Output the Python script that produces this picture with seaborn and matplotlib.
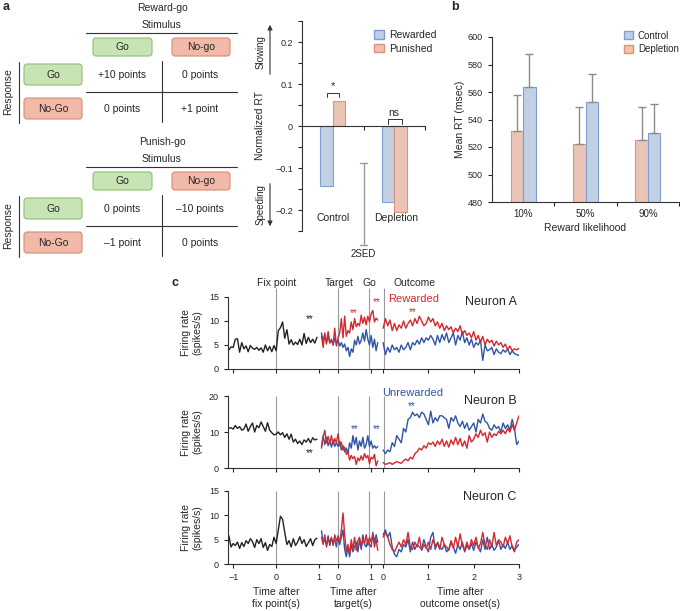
import numpy as np
import pandas as pd
import seaborn as sns
import matplotlib.pyplot as plt
from matplotlib.patches import FancyBboxPatch, Patch

# ---------------- data ----------------
# panel a, tables
reward_go = [["+10 points", "0 points"], ["0 points", "+1 point"]]
punish_go = [["0 points", "\u201310 points"], ["\u20131 point", "0 points"]]

# panel a, normalized RT
rt_groups = ["Control", "Depletion"]
rt_rewarded = [-0.142, -0.182]
rt_punished = [0.060, -0.205]
sed2_top, sed2_bottom = -0.088, -0.284

# panel b, mean RT
likelihood = ["10%", "50%", "90%"]
mean_rt_control = [564, 553, 530]
mean_rt_depletion = [532, 522, 525]
err_control = [24, 20, 21]
err_depletion = [26, 27, 24]

# panel c, firing rates (bins of 50 ms)
a_fix = [4.0, 4.6, 4.5, 6.2, 6.3, 3.5, 5.5, 4.2, 4.8, 3.6, 4.9, 4.3, 4.1, 4.5, 3.9, 4.4, 3.5, 5.0, 3.8, 4.7, 3.6, 4.9,
         3.8, 8.0, 8.6, 9.8, 6.4, 8.2, 5.2, 6.1, 5.0, 5.6, 5.1, 6.2, 5.0, 7.4, 5.3, 6.6, 5.5, 6.2, 5.4, 6.6]
a_tgt_rew = [6.8, 4.5, 7.5, 5.2, 7.8, 5.5, 6.0, 5.0, 8.5, 4.8, 6.5, 7.5, 10.5, 6.5, 11.0, 6.8, 8.0, 7.5, 9.8, 8.2,
             10.5, 8.8, 9.5, 9.0, 11.2, 9.5, 10.8, 9.2, 11.0, 9.8, 11.5, 12.2, 9.8, 10.6, 10.2]
a_tgt_unr = [7.5, 5.8, 7.2, 5.5, 7.0, 5.4, 6.2, 5.0, 6.5, 5.2, 6.0, 4.8, 5.5, 4.5, 5.2, 3.8, 4.5, 2.6, 4.2, 3.5,
             6.0, 5.0, 6.8, 5.2, 6.0, 7.5, 5.8, 8.2, 6.2, 5.0, 7.0, 4.5, 6.2, 3.8, 5.5]
a_out_rew = [8.5, 10.5, 9.0, 10.2, 8.0, 9.5, 8.0, 9.2, 8.5, 10.0, 8.5, 9.5, 10.2, 9.0, 10.5, 9.5, 11.0, 10.0, 9.0, 9.5,
             10.8, 9.8, 10.5, 9.0, 9.8, 8.5, 9.5, 8.0, 9.0, 8.2, 8.8, 7.5, 8.5, 7.8, 9.0, 7.2, 8.0, 7.0, 7.5, 6.5,
             7.8, 6.0, 7.0, 5.5, 6.8, 5.0, 6.2, 5.5, 6.0, 4.8, 5.8, 5.0, 5.5, 4.5, 5.2, 4.0, 4.8, 3.8, 4.2, 4.0, 4.3]
a_out_unr = [5.5, 3.0, 4.5, 3.5, 5.0, 4.0, 4.5, 3.5, 5.0, 4.0, 4.5, 5.5, 4.0, 5.5, 5.0, 6.0, 5.2, 6.5, 5.5, 6.5,
             6.0, 7.0, 6.2, 5.0, 7.0, 5.5, 7.2, 6.0, 7.5, 5.5, 6.5, 7.5, 5.0, 7.0, 6.0, 7.8, 5.5, 6.5, 5.0, 6.2,
             4.5, 5.5, 5.0, 6.0, 1.8, 5.0, 3.8, 4.0, 4.5, 3.0, 4.2, 3.5, 3.2, 4.0, 3.5, 4.2, 3.0, 3.8, 3.2, 3.0, 2.8]

b_fix = [11.0, 11.2, 10.8, 11.8, 11.0, 11.5, 10.5, 10.8, 12.2, 10.2, 11.5, 12.5, 10.0, 11.8, 11.2, 12.8, 11.5, 10.2,
         12.6, 10.5, 9.8, 9.2, 9.4, 10.0, 9.2, 9.8, 8.5, 9.5, 8.0, 9.4, 7.2, 8.0, 6.8, 7.5, 6.5, 7.8, 7.2, 8.2, 7.0,
         8.4, 7.8, 8.0]
b_tgt_rew = [5.5, 8.5, 10.5, 7.0, 8.8, 6.8, 9.0, 6.5, 8.2, 7.0, 9.5, 6.2, 7.2, 5.0, 5.8, 3.8, 4.5, 2.2, 3.5, 2.6,
             3.2, 1.0, 2.8, 2.0, 3.4, 2.2, 4.0, 2.8, 3.5, 1.2, 3.0, 2.5, 3.8, 0.6, 2.0]
b_tgt_unr = [6.0, 9.0, 6.5, 8.5, 6.2, 7.5, 5.8, 7.8, 6.0, 7.0, 6.0, 7.5, 5.0, 6.2, 4.5, 5.5, 4.0, 7.0, 5.5, 9.0,
             6.5, 8.5, 5.0, 7.5, 6.0, 8.5, 5.5, 6.5, 9.0, 6.0, 7.5, 5.5, 6.2, 5.5, 6.0]
b_out_rew = [1.5, 1.0, 1.2, 1.5, 1.0, 1.4, 1.8, 1.5, 1.3, 2.0, 2.5, 2.0, 3.0, 2.5, 4.0, 4.5, 5.5, 5.0, 6.2, 5.5,
             7.0, 6.5, 7.2, 6.0, 7.5, 6.5, 8.0, 6.0, 7.5, 5.8, 7.8, 6.5, 8.5, 6.5, 8.2, 6.0, 7.5, 5.5, 9.0, 7.2,
             8.0, 9.5, 8.5, 10.5, 9.0, 9.8, 7.2, 10.0, 8.5, 9.5, 9.0, 10.2, 9.5, 10.5, 9.5, 11.0, 10.0, 12.0, 10.5,
             12.5, 14.5]
b_out_unr = [5.0, 4.0, 5.0, 4.5, 7.0, 6.0, 9.0, 8.0, 7.0, 11.0, 10.0, 13.5, 14.0, 15.5, 14.5, 15.0, 14.0, 15.5,
             15.0, 13.5, 12.0, 15.8, 12.5, 14.0, 13.0, 14.5, 14.5, 14.0, 13.5, 11.0, 14.0, 13.0, 14.5, 12.5, 11.5,
             13.0, 11.0, 12.5, 10.5, 11.5, 12.5, 10.0, 13.5, 12.5, 15.0, 13.0, 12.5, 11.0, 10.5, 12.0, 11.0, 11.5,
             10.0, 12.5, 11.0, 12.0, 10.5, 13.5, 11.0, 6.5, 7.5]

c_fix = [5.8, 3.5, 4.2, 3.8, 4.5, 3.2, 4.4, 3.6, 4.8, 4.2, 5.2, 4.6, 3.4, 5.0, 4.2, 5.2, 3.4, 4.4, 2.8, 4.0, 3.6, 5.5,
         4.2, 7.0, 9.8, 9.2, 6.5, 4.0, 4.8, 3.5, 5.2, 3.8, 4.5, 5.6, 4.2, 5.0, 3.6, 4.4, 5.2, 3.8, 5.0, 5.3]
c_tgt_rew = [5.5, 4.0, 6.0, 3.5, 5.0, 4.5, 5.5, 3.8, 6.0, 4.8, 5.5, 4.5, 7.0, 10.5, 6.0, 2.5, 4.0, 2.0, 5.0, 3.0,
             5.5, 2.8, 4.8, 5.5, 3.5, 5.0, 4.2, 6.0, 3.8, 5.5, 4.5, 6.0, 3.5, 5.0, 2.8]
c_tgt_unr = [6.8, 4.5, 5.0, 4.0, 5.8, 3.8, 5.2, 4.5, 5.0, 3.5, 5.8, 4.0, 5.5, 7.0, 3.0, 1.5, 3.5, 1.5, 4.0, 2.5,
             3.5, 4.5, 2.5, 5.0, 3.0, 6.0, 4.0, 3.5, 5.0, 4.0, 3.5, 6.5, 4.5, 6.0, 4.5]
c_out_rew = [5.5, 6.5, 5.5, 4.0, 3.0, 2.5, 3.5, 4.5, 3.5, 5.0, 4.0, 6.5, 3.5, 3.0, 4.5, 3.5, 5.5, 2.8, 4.0, 3.2,
             4.5, 3.0, 5.0, 3.8, 4.2, 3.0, 5.5, 4.0, 3.5, 2.8, 4.8, 3.2, 5.5, 3.5, 6.2, 3.8, 2.8, 4.5, 3.0, 5.0,
             3.8, 5.5, 3.2, 4.2, 6.5, 4.0, 3.0, 5.0, 3.5, 6.5, 3.8, 5.0, 4.5, 3.5, 5.5, 4.2, 5.8, 3.5, 2.5, 4.5, 5.0]
c_out_unr = [6.0, 7.0, 5.5, 6.5, 3.5, 2.0, 1.5, 3.0, 2.5, 4.0, 3.5, 5.0, 2.5, 4.5, 3.0, 4.0, 3.5, 3.0, 5.0, 3.5,
             2.5, 5.5, 6.5, 3.0, 4.5, 3.5, 3.0, 4.0, 2.5, 3.0, 4.5, 3.5, 2.2, 4.0, 3.0, 4.5, 2.5, 3.8, 3.0, 4.2,
             2.8, 4.5, 3.5, 2.5, 5.0, 3.0, 5.5, 3.0, 4.0, 2.8, 3.5, 4.8, 3.0, 4.0, 3.2, 4.5, 3.0, 3.8, 2.8, 3.5, 4.0]

# ---------------- style ----------------
sns.set_style("ticks")
plt.rcParams['font.family'] = ['Liberation Sans', 'DejaVu Sans']
plt.rcParams['font.size'] = 7
plt.rcParams['axes.linewidth'] = 0.8
plt.rcParams['axes.edgecolor'] = '#333333'
plt.rcParams['xtick.major.size'] = 3
plt.rcParams['ytick.major.size'] = 3
plt.rcParams['xtick.major.width'] = 0.8
plt.rcParams['ytick.major.width'] = 0.8
plt.rcParams['xtick.labelsize'] = 6.5
plt.rcParams['ytick.labelsize'] = 6.5

BLUE_F, BLUE_E = '#bccfea', '#7f9fd2'
SAL_F, SAL_E = '#f2c2ae', '#d99479'
GREEN_F, GREEN_E = '#c8e4b4', '#8cc075'
RED_F, RED_E = '#f0b9a8', '#d98a76'
RED, BLUE, BLACK, GRAY = '#d2282e', '#2e55a6', '#222222', '#9a9a9a'

W, H = 680, 611
fig = plt.figure(figsize=(W / 100, H / 100), dpi=100)


def box(l, t, r, b):
    return [l / W, 1 - b / H, (r - l) / W, (b - t) / H]


ov = fig.add_axes([0, 0, 1, 1])
ov.set_xlim(0, W)
ov.set_ylim(H, 0)
ov.axis('off')

# ---------------- panel a: tables ----------------
def draw_button(x0, y0, x1, y1, label, fc, ec):
    ov.add_patch(FancyBboxPatch((x0, y0), x1 - x0, y1 - y0,
                                boxstyle="round,pad=0,rounding_size=3",
                                fc=fc, ec=ec, lw=0.8))
    ov.text((x0 + x1) / 2, (y0 + y1) / 2, label, ha='center', va='center', fontsize=7.5)


def draw_table(top, title, cells):
    ov.text(162, top, title, ha='center', va='center', fontsize=7.5)
    ov.text(162, top + 17, "Stimulus", ha='center', va='center', fontsize=7.5)
    ov.plot([86, 237], [top + 25, top + 25], color='#333333', lw=0.8)
    draw_button(93, top + 30, 152, top + 48, "Go", GREEN_F, GREEN_E)
    draw_button(172, top + 30, 230, top + 48, "No-go", RED_F, RED_E)
    draw_button(24, top + 56, 82, top + 77, "Go", GREEN_F, GREEN_E)
    draw_button(24, top + 90, 82, top + 111, "No-Go", RED_F, RED_E)
    ov.plot([19, 19], [top + 54, top + 115], color='#333333', lw=0.8)
    ov.text(8, top + 84, "Response", rotation=90, ha='center', va='center', fontsize=7.5)
    ov.plot([162, 162], [top + 53, top + 114], color='#333333', lw=0.8)
    ov.plot([86, 237], [top + 84, top + 84], color='#333333', lw=0.8)
    for r, yy in enumerate([top + 67, top + 101]):
        for c, xx in enumerate([122, 200]):
            ov.text(xx, yy, cells[r][c], ha='center', va='center', fontsize=7.5)


draw_table(8, "Reward-go", reward_go)
draw_table(142, "Punish-go", punish_go)

for lab, x, y in [("a", 3, 7), ("b", 451, 7), ("c", 171, 283)]:
    ov.text(x, y, lab, fontsize=9, fontweight='bold', ha='left', va='center')

# ---------------- panel a: normalized RT bars ----------------
ax_a = fig.add_axes(box(302, 21, 425, 231))
df_a = pd.DataFrame({
    'group': rt_groups * 2,
    'rt': rt_rewarded + rt_punished,
    'outcome': ['Rewarded'] * 2 + ['Punished'] * 2,
})
sns.barplot(data=df_a, x='group', y='rt', hue='outcome', hue_order=['Rewarded', 'Punished'],
            palette=[BLUE_F, SAL_F], width=0.4, ax=ax_a, legend=False, linewidth=0.8)
for cont, ec in zip(ax_a.containers, [BLUE_E, SAL_E]):
    for bar in cont:
        bar.set_edgecolor(ec)
ax_a.set_xlim(-0.5, 1.5)
ax_a.set_ylim(-0.235, 0.25)
sns.despine(ax=ax_a)
ax_a.spines['bottom'].set_position(('data', 0))
ax_a.set_xticks([])
ax_a.set_xticks([0.5, 1.5], minor=True)
ax_a.tick_params(axis='x', which='minor', length=3, width=0.8)
ax_a.set_yticks([-0.2, -0.1, 0, 0.1, 0.2])
ax_a.set_yticklabels(["\u22120.2", "\u22120.1", "0", "0.1", "0.2"])
ax_a.set_yticks(np.arange(-0.25, 0.26, 0.05), minor=True)
ax_a.tick_params(axis='y', which='minor', length=3, width=0.8)
ax_a.set_xlabel("")
ax_a.set_ylabel("Normalized RT", fontsize=7.5, va='center')
ax_a.yaxis.set_label_coords(-0.34, 0.5)
ax_a.text(0, -0.218, "Control", ha='center', va='center', fontsize=7.5)
ax_a.text(1.03, -0.218, "Depletion", ha='center', va='center', fontsize=7.5)
# 2SED bar
ax_a.plot([0.5, 0.5], [sed2_top, sed2_bottom], color=GRAY, lw=1, clip_on=False)
ax_a.plot([0.45, 0.55], [sed2_top, sed2_top], color=GRAY, lw=1, clip_on=False)
ax_a.plot([0.45, 0.55], [sed2_bottom, sed2_bottom], color=GRAY, lw=1, clip_on=False)
ax_a.text(0.5, sed2_bottom - 0.02, "2SED", ha='center', va='center', fontsize=7, clip_on=False)
# significance
ax_a.plot([-0.1, -0.1, 0.1, 0.1], [0.068, 0.078, 0.078, 0.068], color='#333333', lw=0.7)
ax_a.text(0, 0.083, "*", ha='center', va='bottom', fontsize=8)
ax_a.plot([0.9, 0.9, 1.12, 1.12], [0.005, 0.016, 0.016, 0.005], color='#333333', lw=0.7)
ax_a.text(1.0, 0.019, "ns", ha='center', va='bottom', fontsize=7.5)
ax_a.legend(handles=[Patch(fc=BLUE_F, ec=BLUE_E, label='Rewarded'),
                     Patch(fc=SAL_F, ec=SAL_E, label='Punished')],
            loc='upper right', bbox_to_anchor=(1.17, 1.0), frameon=False, fontsize=7.5,
            handlelength=0.9, handleheight=0.9, handletextpad=0.5, labelspacing=0.3)
# slowing / speeding arrows
ov.annotate("", xy=(270, 22), xytext=(270, 77),
            arrowprops=dict(arrowstyle='-|>', color='#333333', lw=0.8, mutation_scale=7))
ov.annotate("", xy=(270, 229), xytext=(270, 181),
            arrowprops=dict(arrowstyle='-|>', color='#333333', lw=0.8, mutation_scale=7))
ov.text(261, 52, "Slowing", rotation=90, ha='center', va='center', fontsize=7)
ov.text(261, 205, "Speeding", rotation=90, ha='center', va='center', fontsize=7)

# ---------------- panel b: mean RT ----------------
ax_b = fig.add_axes(box(492, 37, 679, 202))
df_b = pd.DataFrame({
    'likelihood': likelihood * 2,
    'rt': mean_rt_depletion + mean_rt_control,
    'condition': ['Depletion'] * 3 + ['Control'] * 3,
})
sns.barplot(data=df_b, x='likelihood', y='rt', hue='condition', hue_order=['Depletion', 'Control'],
            palette=[SAL_F, BLUE_F], width=0.4, ax=ax_b, legend=False, linewidth=0.8)
for cont, ec, errs in zip(ax_b.containers, [SAL_E, BLUE_E], [err_depletion, err_control]):
    for bar, e in zip(cont, errs):
        bar.set_edgecolor(ec)
        xc = bar.get_x() + bar.get_width() / 2
        ax_b.errorbar(xc, bar.get_height(), yerr=[[0], [e]], color='#8c8c8c', lw=1,
                      capsize=3, capthick=1, zorder=1)
ax_b.set_ylim(480, 600)
ax_b.set_xlim(-0.5, 2.5)
ax_b.set_yticks(range(480, 601, 20))
sns.despine(ax=ax_b)
ax_b.tick_params(axis='x', which='major', length=0, pad=5)
ax_b.set_xticks([0.5, 1.5, 2.5], minor=True)
ax_b.tick_params(axis='x', which='minor', length=3, width=0.8)
ax_b.set_xticklabels(likelihood, fontsize=7)
ax_b.set_xlabel("Reward likelihood", fontsize=7.5, labelpad=3)
ax_b.set_ylabel("Mean RT (msec)", fontsize=7.5, va='center')
ax_b.yaxis.set_label_coords(-0.17, 0.5)
ax_b.legend(handles=[Patch(fc=BLUE_F, ec=BLUE_E, label='Control'),
                     Patch(fc=SAL_F, ec=SAL_E, label='Depletion')],
            loc='upper right', bbox_to_anchor=(1.035, 1.08), frameon=False, fontsize=7,
            handlelength=0.9, handleheight=0.9, handletextpad=0.5, labelspacing=0.35,
            borderpad=0.2)

# ---------------- panel c: firing rates ----------------
FIX_OFF, TGT_OFF, TGT_SC, OUT_OFF, OUT_SC = 0.0, 1.44, 0.77, 2.49, 1.053
event_u = [0.0, 1.44, 2.16, 2.50]
tick_u = [-1, 0, 1, 1.44, 2.21, 2.49, 3.54, 4.60, 5.65]
tick_lab = ["\u22121", "0", "1", "0", "1", "0", "1", "2", "3"]


def seg_u(vals, start, off, sc):
    t = start + 0.05 * np.arange(len(vals))
    return off + sc * t


def draw_neuron(ax, fix, t_rew, t_unr, o_rew, o_unr, ymax, yticks, show_x):
    sns.lineplot(x=seg_u(fix, -1.1, FIX_OFF, 1.0), y=fix, color=BLACK, lw=1, ax=ax)
    sns.lineplot(x=seg_u(t_unr, -0.5, TGT_OFF, TGT_SC), y=t_unr, color=BLUE, lw=1, ax=ax)
    sns.lineplot(x=seg_u(t_rew, -0.5, TGT_OFF, TGT_SC), y=t_rew, color=RED, lw=1, ax=ax)
    sns.lineplot(x=seg_u(o_unr, 0.0, OUT_OFF, OUT_SC), y=o_unr, color=BLUE, lw=1, ax=ax)
    sns.lineplot(x=seg_u(o_rew, 0.0, OUT_OFF, OUT_SC), y=o_rew, color=RED, lw=1, ax=ax)
    ax.set_xlim(-1.12, 5.65)
    ax.set_ylim(0, ymax)
    ax.set_yticks(yticks)
    ax.set_xticks(tick_u)
    ax.set_xticklabels(tick_lab if show_x else [])
    sns.despine(ax=ax)
    ax.set_ylabel("Firing rate\n(spikes/s)", fontsize=7.5, va='center', linespacing=1.1)
    ax.yaxis.set_label_coords(-0.125, 0.5)


ax_A = fig.add_axes(box(228, 297, 519, 369))
ax_B = fig.add_axes(box(228, 396, 519, 468))
ax_C = fig.add_axes(box(228, 491, 519, 564))

draw_neuron(ax_A, a_fix, a_tgt_rew, a_tgt_unr, a_out_rew, a_out_unr, 15, [0, 5, 10, 15], False)
draw_neuron(ax_B, b_fix, b_tgt_rew, b_tgt_unr, b_out_rew, b_out_unr, 20, [0, 10, 20], False)
draw_neuron(ax_C, c_fix, c_tgt_rew, c_tgt_unr, c_out_rew, c_out_unr, 15, [0, 5, 10, 15], True)

ax_A.vlines(event_u, 0, 16.9, color=GRAY, lw=0.8, zorder=0, clip_on=False)
ax_B.vlines(event_u, 0, 20, color=GRAY, lw=0.8, zorder=0)
ax_C.vlines(event_u, 0, 15, color=GRAY, lw=0.8, zorder=0)

for lab, u in [("Fix point", 0.02), ("Target", 1.47), ("Go", 2.17), ("Outcome", 3.23)]:
    ax_A.text(u, 17.9, lab, ha='center', va='center', fontsize=7.5, clip_on=False)

ax_A.text(5.6, 14.0, "Neuron A", ha='right', va='center', fontsize=9)
ax_B.text(5.6, 18.6, "Neuron B", ha='right', va='center', fontsize=9)
ax_C.text(5.6, 13.8, "Neuron C", ha='right', va='center', fontsize=9)

ax_A.text(0.79, 10.4, "**", color=BLACK, ha='center', va='center', fontsize=7)
ax_A.text(1.81, 11.7, "**", color=RED, ha='center', va='center', fontsize=7)
ax_A.text(2.35, 14.0, "**", color=RED, ha='center', va='center', fontsize=7)
ax_A.text(3.17, 11.9, "**", color=RED, ha='center', va='center', fontsize=7)
ax_A.text(3.2, 14.6, "Rewarded", color=RED, ha='center', va='center', fontsize=8)

ax_B.text(0.77, 4.2, "**", color=BLACK, ha='center', va='center', fontsize=7)
ax_B.text(1.82, 10.8, "**", color=BLUE, ha='center', va='center', fontsize=7)
ax_B.text(2.35, 10.8, "**", color=BLUE, ha='center', va='center', fontsize=7)
ax_B.text(3.16, 17.3, "**", color=BLUE, ha='center', va='center', fontsize=7)
ax_B.text(3.18, 20.8, "Unrewarded", color=BLUE, ha='center', va='center', fontsize=8, clip_on=False)

for txt, x in [("Time after\nfix point(s)", 276), ("Time after\ntarget(s)", 353),
               ("Time after\noutcome onset(s)", 460)]:
    ov.text(x, 598, txt, ha='center', va='center', fontsize=7.5, linespacing=1.15)

fig.savefig("out.png", dpi=100)
